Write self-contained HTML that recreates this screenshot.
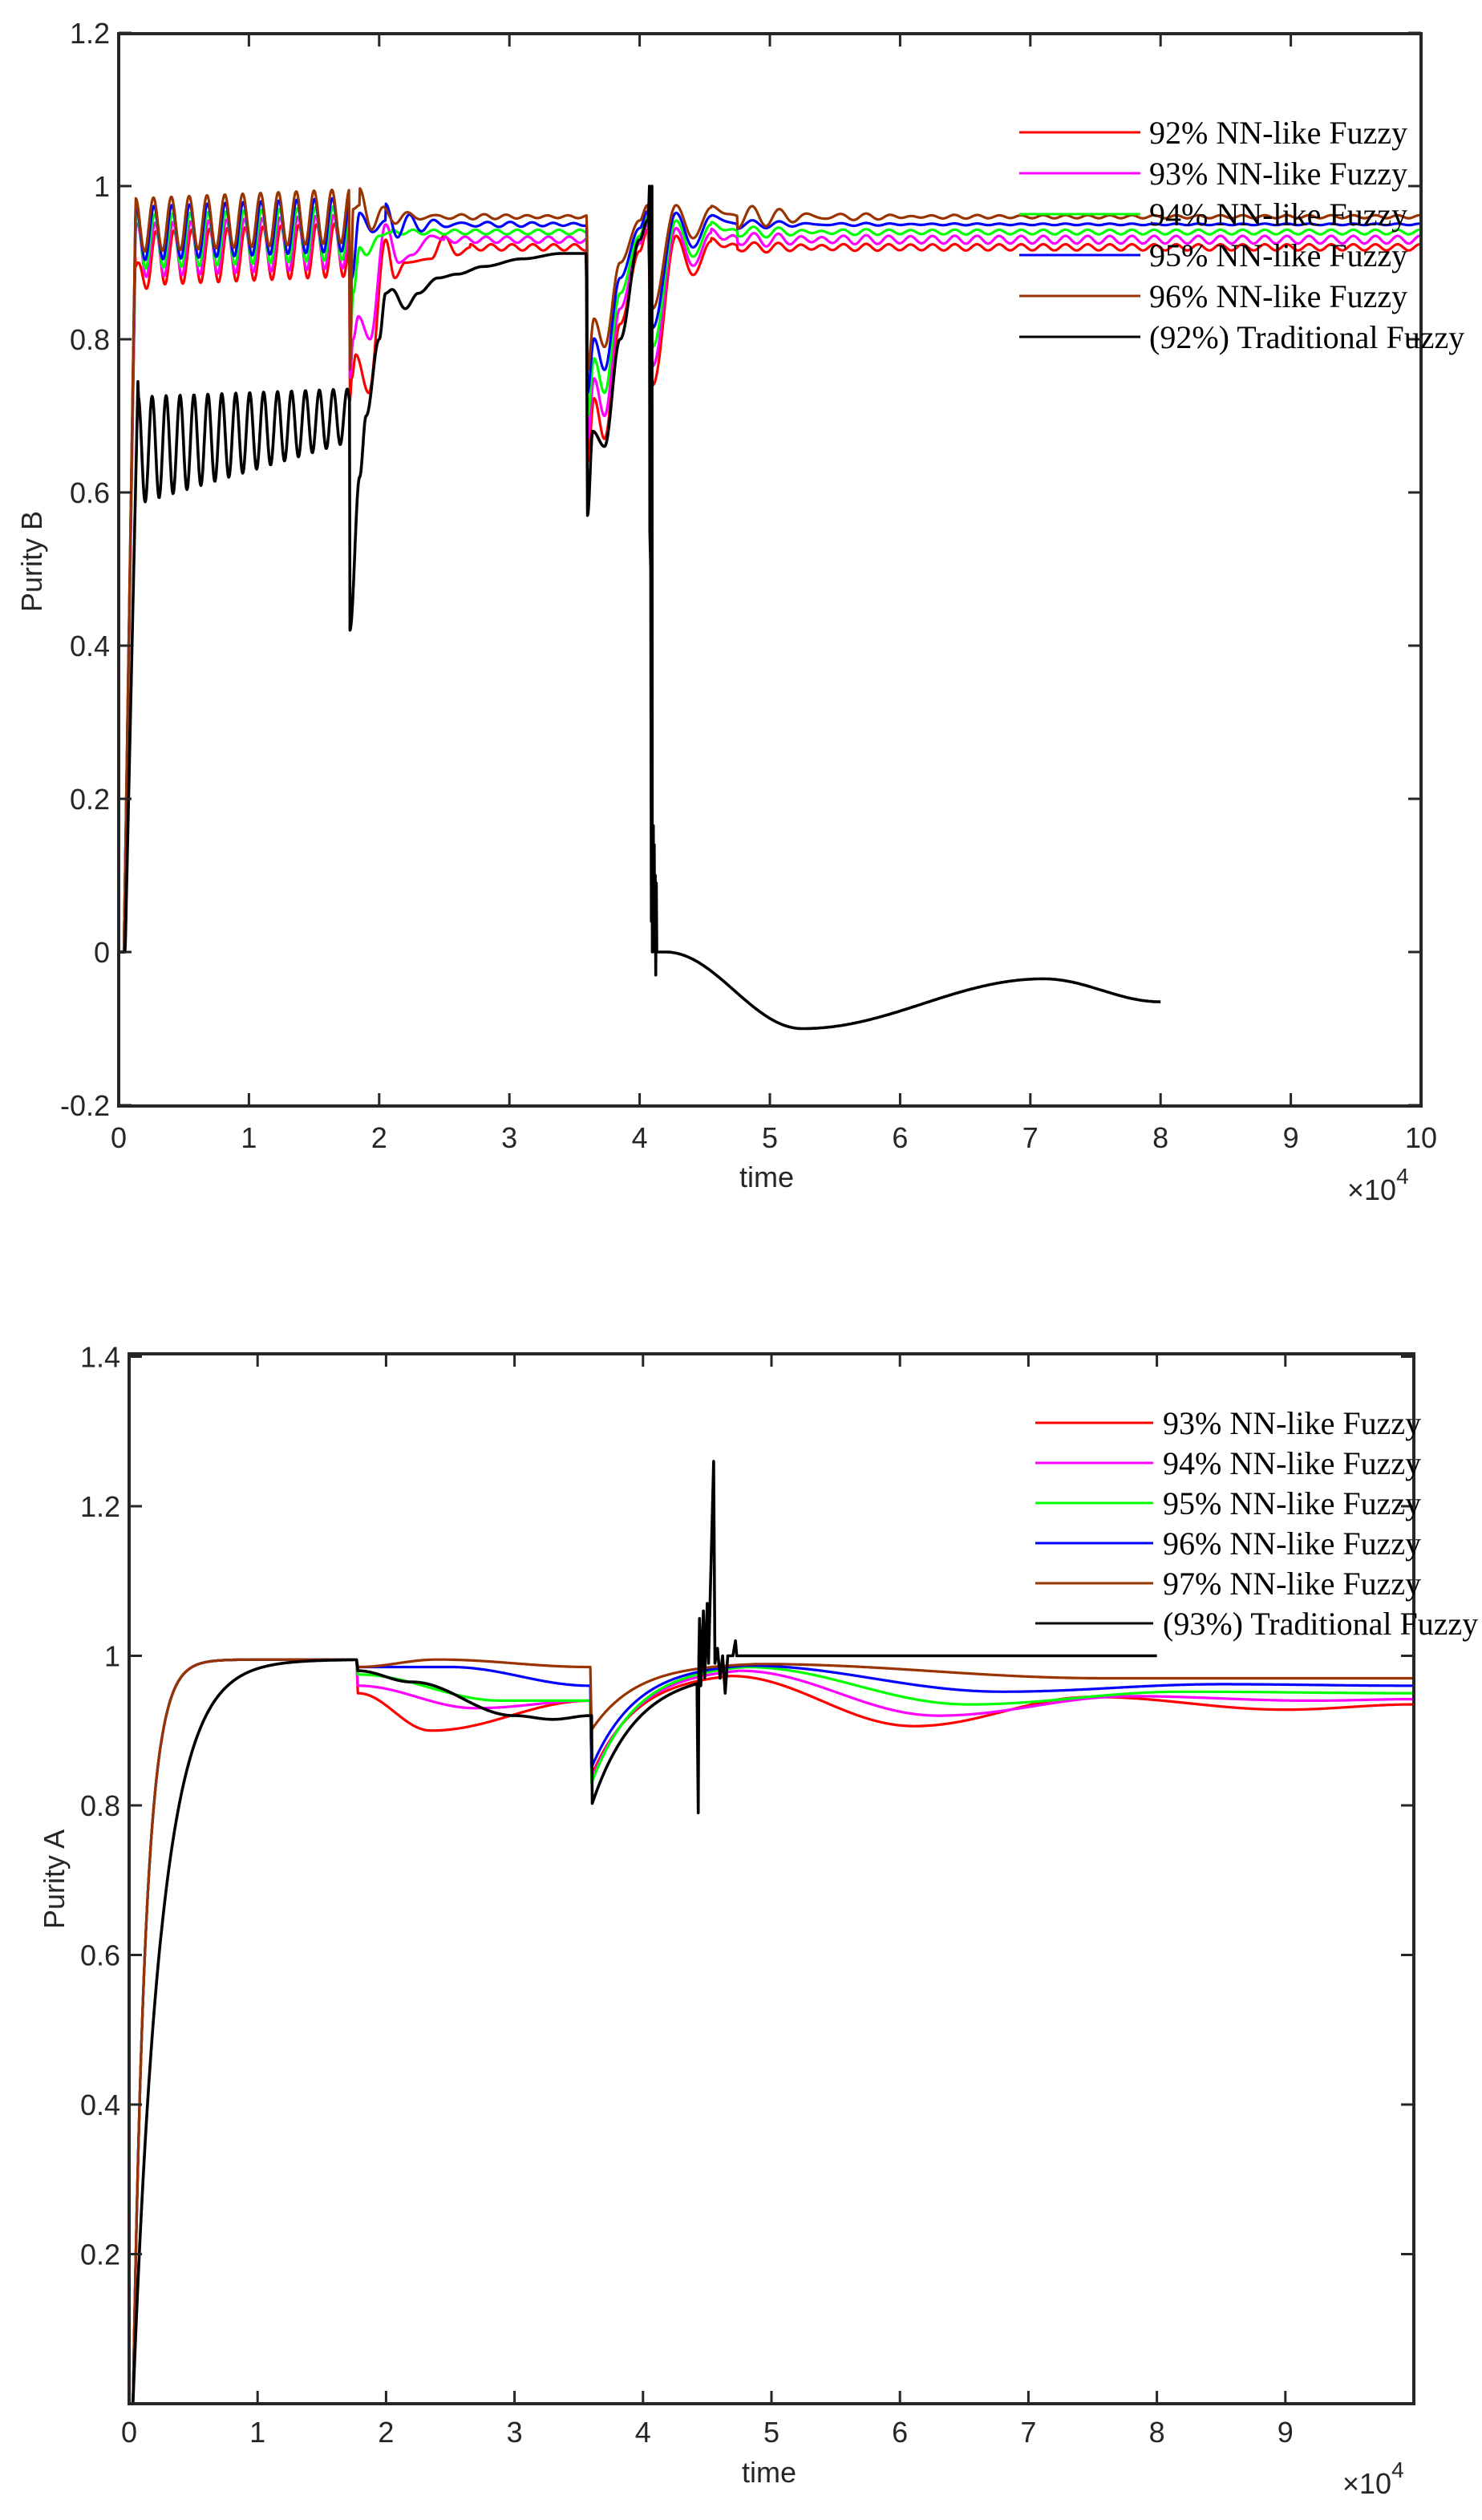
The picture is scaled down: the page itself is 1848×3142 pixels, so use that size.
<!DOCTYPE html>
<html><head><meta charset="utf-8"><style>
html,body{margin:0;padding:0;background:#fff}
svg{display:block}
text{font-family:"Liberation Sans",Arial,sans-serif;fill:#262626}
.lg{font-family:"Liberation Serif","Times New Roman",serif;font-size:40px;fill:#000}
</style></head><body>
<svg id="s" width="1848" height="3142" viewBox="0 0 1848 3142" xmlns="http://www.w3.org/2000/svg">
<defs>
<clipPath id="c1"><rect x="148" y="42" width="1624" height="1337"/></clipPath>
<clipPath id="c2"><rect x="161" y="1688" width="1602" height="1309"/></clipPath>
</defs>
<g id="plots"></g>
<g id="axes"></g>
<text x="956" y="1480" font-size="36" text-anchor="middle">time</text>
<text x="1680" y="1496" font-size="36">×10<tspan dy="-20" font-size="28">4</tspan></text>
<text transform="translate(52,700) rotate(-90)" font-size="36" text-anchor="middle">Purity B</text>
<text x="959" y="3095" font-size="36" text-anchor="middle">time</text>
<text x="1674" y="3109" font-size="36">×10<tspan dy="-20" font-size="28">4</tspan></text>
<text transform="translate(80,2343) rotate(-90)" font-size="36" text-anchor="middle">Purity A</text>
<g id="leg1">
<line x1="1271" y1="165" x2="1422" y2="165" stroke="#ff0000" stroke-width="3"/>
<line x1="1271" y1="216" x2="1422" y2="216" stroke="#ff00ff" stroke-width="3"/>
<line x1="1271" y1="267" x2="1422" y2="267" stroke="#00ff00" stroke-width="3"/>
<line x1="1271" y1="318" x2="1422" y2="318" stroke="#0000ff" stroke-width="3"/>
<line x1="1271" y1="369" x2="1422" y2="369" stroke="#993300" stroke-width="3"/>
<line x1="1271" y1="420" x2="1422" y2="420" stroke="#000" stroke-width="3"/>
<text class="lg" x="1433" y="179">92% NN-like Fuzzy</text>
<text class="lg" x="1433" y="230">93% NN-like Fuzzy</text>
<text class="lg" x="1433" y="281">94% NN-like Fuzzy</text>
<text class="lg" x="1433" y="332">95% NN-like Fuzzy</text>
<text class="lg" x="1433" y="383">96% NN-like Fuzzy</text>
<text class="lg" x="1433" y="434">(92%) Traditional Fuzzy</text>
</g>
<g id="leg2">
<line x1="1291" y1="1774" x2="1438" y2="1774" stroke="#ff0000" stroke-width="3"/>
<line x1="1291" y1="1824" x2="1438" y2="1824" stroke="#ff00ff" stroke-width="3"/>
<line x1="1291" y1="1874" x2="1438" y2="1874" stroke="#00ff00" stroke-width="3"/>
<line x1="1291" y1="1924" x2="1438" y2="1924" stroke="#0000ff" stroke-width="3"/>
<line x1="1291" y1="1974" x2="1438" y2="1974" stroke="#993300" stroke-width="3"/>
<line x1="1291" y1="2024" x2="1438" y2="2024" stroke="#000" stroke-width="3"/>
<text class="lg" x="1450" y="1788">93% NN-like Fuzzy</text>
<text class="lg" x="1450" y="1838">94% NN-like Fuzzy</text>
<text class="lg" x="1450" y="1888">95% NN-like Fuzzy</text>
<text class="lg" x="1450" y="1938">96% NN-like Fuzzy</text>
<text class="lg" x="1450" y="1988">97% NN-like Fuzzy</text>
<text class="lg" x="1450" y="2038">(93%) Traditional Fuzzy</text>
</g>
<g id="ticklabels"></g>
</svg>
<script>
(function(){
var NS="http://www.w3.org/2000/svg";
function el(n,a,p){var e=document.createElementNS(NS,n);for(var k in a)e.setAttribute(k,a[k]);p.appendChild(e);return e;}
function ci(keys,t){
 if(t<=keys[0][0])return keys[0][1];
 for(var i=1;i<keys.length;i++){if(t<=keys[i][0]){var t0=keys[i-1][0],v0=keys[i-1][1],t1=keys[i][0],v1=keys[i][1];var u=(t-t0)/(t1-t0);var w=(1-Math.cos(Math.PI*u))/2;return v0+(v1-v0)*w;}}
 return keys[keys.length-1][1];
}
var COL=["#ff0000","#ff00ff","#00ff00","#0000ff","#993300"];
var P=document.getElementById("plots"),A=document.getElementById("axes"),TL=document.getElementById("ticklabels");
function X1(t){return 148+162.4*t;} function Y1(v){return 232+(1-v)*955;}
function X2(t){return 161+160.2*t;} function Y2(v){return 2997-932.5*v;}
function path(fn,t0,t1,dt,X,Y,extra){var d="";var first=true;for(var t=t0;t<=t1+1e-9;t+=dt){var v=fn(t);d+=(first?"M":"L")+X(t).toFixed(1)+" "+Y(v).toFixed(1);first=false;}
 if(extra){for(var j=0;j<extra.length;j++)d+="L"+X(extra[j][0]).toFixed(1)+" "+Y(extra[j][1]).toFixed(1);}return d;}
function top(i){
 var d=4-i, L=0.92+0.01*i;
 var ph=[0.9,0.6,0.4,0.2,0][i];
 var Bk=[
  [[1.77,L],[1.775,0.72],[1.79,0.75],[1.82,0.78],[1.92,0.73],[2.05,0.93],[2.12,0.88],[2.2,0.90],[2.4,0.905],[2.5,0.935],[2.6,0.91],[2.7,0.92]],
  [[1.77,L],[1.775,0.75],[1.80,0.80],[1.84,0.83],[1.93,0.80],[2.05,0.95],[2.15,0.90],[2.25,0.91],[2.4,0.935],[2.5,0.93]],
  [[1.77,L],[1.775,0.78],[1.80,0.86],[1.85,0.92],[1.9,0.91],[2.0,0.935],[2.1,0.94]],
  [[1.77,L],[1.775,0.80],[1.79,0.88],[1.85,0.965],[1.95,0.94],[2.05,0.955]],
  [[1.77,L],[1.775,0.76],[1.80,0.97],[1.85,0.975]]][i];
 var Bend=Bk[Bk.length-1][0];
 var Ck=[[3.595,L],[3.60,0.76-0.03*d],[3.65,0.827-0.026*d],[3.73,0.79-0.03*d],[3.85,0.90-0.02*d],[4.0,0.955-0.01*d],[4.06,0.975-0.008*d],[4.1,0.84-0.025*d],[4.28,0.975-0.01*d],[4.41,0.932-0.012*d],[4.55,0.972-0.011*d]];
 return function(t){
  if(t<0.04)return 0;
  var m=0.905+0.011*i+0.012*(t-0.13)/1.64, Am=0.035;
  var osc=function(t){return m+Am*Math.cos(2*Math.PI*(t-0.13)/0.137-ph);};
  if(t<0.13){var e=osc(0.13);return e*(t-0.04)/0.09;}
  if(t<1.77){var v=osc(t); if(i==0&&t<0.3)v-=0.04*Math.exp(-(t-0.15)*(t-0.15)/0.002);return v;}
  if(t<Bend)return ci(Bk,t);
  if(t<3.595){var a=[0.004,0.004,0.003,0.002,0.002][i];var dec=(i>=3)?0.02*Math.exp(-(t-Bend)/0.35):0;
   var base=ci([[Bend,Bk[Bk.length-1][1]],[Bend+0.1,L]],t);return base+a*Math.cos(2*Math.PI*(t-Bend)/0.16)+dec*Math.cos(2*Math.PI*(t-Bend)/0.19);}
  if(t<4.55)return ci(Ck,t);
  var a2=[0.004,0.005,0.003,0.001,0.002][i];
  var dec2=[0.004,0.006,0.006,0.006,0.016][i]*Math.exp(-(t-4.75)/0.5);
  var base2=ci([[4.55,Ck[Ck.length-1][1]],[4.75,L]],t);
  return base2+(t<4.75?0:dec2*Math.cos(2*Math.PI*(t-4.75)/0.22+Math.PI))+a2*Math.cos(2*Math.PI*(t-4.55)/0.17);
 };
}
var g1=el("g",{"clip-path":"url(#c1)",fill:"none","stroke-linejoin":"round"},P);
for(var i=0;i<5;i++){el("path",{d:path(top(i),0,10,0.004,X1,Y1),stroke:COL[i],"stroke-width":3.2},g1);}
var bkB=[[1.775,0.42],[1.85,0.62],[1.9,0.70],[2.0,0.80],[2.05,0.86],[2.1,0.865],[2.2,0.84],[2.3,0.86],[2.45,0.88],[2.6,0.885],[2.8,0.895],[3.1,0.905],[3.4,0.912],[3.59,0.912],[3.6,0.57],[3.64,0.68],[3.73,0.66],[3.85,0.80],[4.0,0.93],[4.06,0.955],[4.07,0.96]];
function blackTop(t){
 if(t<0.05)return 0;
 if(t<0.15)return 0.76*(t-0.05)/0.1;
 if(t<1.77){var m=0.655+0.045*(t-0.15)/1.6;var a=0.07-0.035*(t-0.15)/1.6;return m+a*Math.cos(2*Math.PI*(t-0.15)/0.107);}
 if(t<1.775)return 0.72;
 return ci(bkB,t);
}
var spk=[[4.075,1.0],[4.078,0.55],[4.085,0.5],[4.09,0.04],[4.095,1.0],[4.097,0.0],[4.10,0.12],[4.105,0.165],[4.108,0.01],[4.112,0.14],[4.116,0.0],[4.12,0.1],[4.124,-0.03],[4.128,0.09],[4.132,0.0],[4.14,0.0]];
var tail=[[4.14,0.0],[4.2,0.0],[5.25,-0.10],[7.1,-0.035],[8.0,-0.065]];
var dB=path(blackTop,0,4.07,0.004,X1,Y1,spk);
for(var t=4.15;t<=8.0001;t+=0.01)dB+="L"+X1(t).toFixed(1)+" "+Y1(ci(tail,t)).toFixed(1);
el("path",{d:dB,stroke:"#000","stroke-width":3.6},g1);
// bottom
var bB=[
 [[1.77,0.995],[1.78,0.95],[2.35,0.90],[3.59,0.94],[3.6,0.84],[4.68,0.973],[6.11,0.906],[7.5,0.945],[9.0,0.928],[10,0.935]],
 [[1.77,0.995],[1.78,0.96],[2.7,0.93],[3.59,0.94],[3.6,0.835],[4.75,0.98],[6.3,0.92],[7.8,0.946],[9.2,0.94],[10,0.942]],
 [[1.77,0.995],[1.78,0.975],[2.9,0.94],[3.59,0.94],[3.6,0.83],[4.8,0.985],[6.54,0.935],[8.2,0.952],[10,0.95]],
 [[1.77,0.995],[1.78,0.985],[2.5,0.985],[3.59,0.96],[3.6,0.851],[4.8,0.987],[6.8,0.952],[8.5,0.962],[10,0.96]],
 [[1.77,0.995],[1.78,0.985],[2.4,0.995],[3.59,0.985],[3.6,0.901],[4.9,0.989],[7.6,0.97],[10,0.97]]];
function bot(i){var k=bB[i];var vmin=k[4][1],tp=k[5][0],vp=k[5][1],tau=0.35;var den=1-Math.exp(-(tp-3.6)/tau);
 return function(t){if(t<1.77)return 0.995*(1-Math.exp(-Math.max(0,t-0.03)/0.1));
  if(t>3.6&&t<tp){return vmin+(vp-vmin)*(1-Math.exp(-(t-3.6)/tau))/den;}
  return ci(k,t);};}
var g2=el("g",{"clip-path":"url(#c2)",fill:"none","stroke-linejoin":"round"},P);
for(var i=0;i<5;i++){el("path",{d:path(bot(i),0,10,0.005,X2,Y2),stroke:COL[i],"stroke-width":3.2},g2);}
var bkk=[[1.77,0.995],[1.78,0.98],[2.2,0.965],[3.0,0.92],[3.3,0.915],[3.59,0.92]];
function blackBot(t){if(t<1.77)return 0.995*(1-Math.exp(-Math.max(0,t-0.03)/0.22));
 if(t>=3.6)return 0.80+0.18*(1-Math.exp(-(t-3.6)/0.35));
 return ci(bkk,t);}
var sp2=[[4.43,0.79],[4.435,1.0],[4.44,1.05],[4.45,0.96],[4.47,1.06],[4.48,0.97],[4.5,1.07],[4.51,0.99],[4.55,1.26],[4.56,0.99],[4.58,1.01],[4.6,0.97],[4.62,1.0],[4.64,0.95],[4.66,1.0],[4.7,1.0],[4.72,1.02],[4.73,1.0],[8.0,1.0]];
el("path",{d:path(blackBot,0,4.42,0.005,X2,Y2,sp2),stroke:"#000","stroke-width":3.6},g2);
// axes
el("rect",{x:148,y:42,width:1624,height:1337,stroke:"#262626","stroke-width":4,fill:"none"},A);
el("rect",{x:161,y:1688,width:1602,height:1309,stroke:"#262626","stroke-width":4,fill:"none"},A);
var td="";
for(var k=0;k<=10;k++){var x=X1(k);td+="M"+x+" 1379V1363M"+x+" 42V58";
 el("text",{x:x,y:1431,"font-size":36,"text-anchor":"middle"},TL).textContent=String(k);}
for(var k=-1;k<=6;k++){var v=k*0.2,y=Y1(v);td+="M148 "+y+"H164M1772 "+y+"H1756";
 var s=(Math.abs(v)<1e-9)?"0":(Math.abs(v-1)<1e-9?"1":v.toFixed(1));
 el("text",{x:137,y:y+13,"font-size":36,"text-anchor":"end"},TL).textContent=s;}
for(var k=0;k<=9;k++){var x=X2(k);td+="M"+x+" 2997V2981M"+x+" 1688V1704";
 el("text",{x:x,y:3045,"font-size":36,"text-anchor":"middle"},TL).textContent=String(k);}
for(var k=1;k<=7;k++){var v=k*0.2,y=Y2(v);td+="M161 "+y+"H177M1763 "+y+"H1747";
 var s=(Math.abs(v-1)<1e-9)?"1":v.toFixed(1);
 el("text",{x:150,y:y+13,"font-size":36,"text-anchor":"end"},TL).textContent=s;}
el("path",{d:td,stroke:"#262626","stroke-width":3,fill:"none"},A);
})();
</script>
</body></html>
